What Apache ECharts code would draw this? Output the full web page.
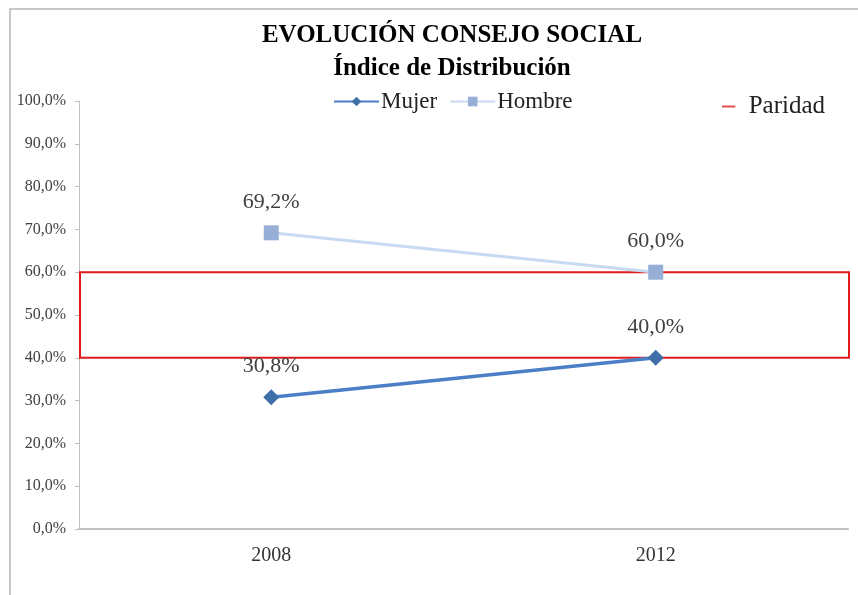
<!DOCTYPE html>
<html><head><meta charset="utf-8">
<script src="https://cdn.jsdelivr.net/npm/echarts@6/dist/echarts.min.js"></script>
<style>html,body{margin:0;padding:0;background:#fff}#c{width:858px;height:595px}</style>
</head><body><div id="c"></div>
<script>
const categories = ['2008', '2012'];
const mujer = [30.8, 40.0];
const hombre = [69.2, 60.0];
const paridadRange = [40, 60];
const yTicks = [0, 10, 20, 30, 40, 50, 60, 70, 80, 90, 100];

const fmt = v => v.toFixed(1).replace('.', ',') + '%';
const serif = '"Liberation Serif", "DejaVu Serif", serif';
const chart = echarts.init(document.getElementById('c'));
chart.setOption({
  animation: false,
  backgroundColor: '#fff',
  graphic: [{
    type: 'polyline', shape: { points: [[10, 600], [10, 9], [870, 9]] },
    style: { stroke: '#c8c8c8', lineWidth: 2, fill: null }, silent: true
  }],
  title: {
    text: 'EVOLUCIÓN CONSEJO SOCIAL\nÍndice de Distribución',
    left: 447, top: 14, textAlign: 'center',
    textStyle: { fontFamily: serif, fontWeight: 'bold', fontSize: 25, lineHeight: 33, color: '#000' }
  },
  legend: [{
    data: ['Mujer', 'Hombre'], left: 333, top: 90, padding: 0, itemGap: 12, itemWidth: 45, itemHeight: 12,
    textStyle: { fontFamily: serif, fontSize: 23, color: '#222', padding: [0, 0, 0, -3] }
  }, {
    data: [{ name: 'Paridad', icon: 'path://M0,0 L10,0 L10,1.5 L0,1.5 Z' }],
    left: 722, top: 94, padding: 0, itemWidth: 16, itemHeight: 2, itemGap: 6,
    textStyle: { fontFamily: serif, fontSize: 25, color: '#222', padding: [0, 0, 0, 7] }
  }],
  grid: { left: 79, right: 10, top: 101, bottom: 66, containLabel: false },
  xAxis: {
    type: 'category', data: categories, boundaryGap: true,
    axisLine: { lineStyle: { color: '#c0c0c0', width: 2 } },
    axisTick: { show: false },
    axisLabel: { fontFamily: serif, fontSize: 20, color: '#333', margin: 17 }
  },
  yAxis: {
    type: 'value', min: yTicks[0], max: yTicks[yTicks.length - 1], interval: 10,
    axisLine: { show: true, lineStyle: { color: '#c0c0c0', width: 1 } },
    axisTick: { show: true, length: 4, lineStyle: { color: '#c0c0c0' } },
    splitLine: { show: false },
    axisLabel: { fontFamily: serif, fontSize: 16, color: '#404040', margin: 13, formatter: v => fmt(v) }
  },
  series: [{
    name: 'Mujer', type: 'line', data: mujer,
    symbol: 'diamond', symbolSize: 16,
    lineStyle: { color: '#4a7fc6', width: 3.5 },
    itemStyle: { color: '#3f6fa9' },
    label: { show: true, position: 'top', distance: 12, fontFamily: serif, fontSize: 22, color: '#404040', formatter: p => fmt(p.value) },
    z: 3
  }, {
    name: 'Hombre', type: 'line', data: hombre,
    symbol: 'rect', symbolSize: 15,
    lineStyle: { color: '#c8daf2', width: 3 },
    itemStyle: { color: '#97aed6' },
    label: { show: true, position: 'top', distance: 12, fontFamily: serif, fontSize: 22, color: '#404040', formatter: p => fmt(p.value) },
    z: 3
  }, {
    name: 'Paridad', type: 'line', data: [],
    itemStyle: { color: '#e05050' }, lineStyle: { color: '#e05050' },
    markArea: {
      silent: true,
      itemStyle: { color: 'rgba(0,0,0,0)', borderColor: '#e01b1b', borderWidth: 2 },
      data: [[{ yAxis: paridadRange[0], x: 80 }, { yAxis: paridadRange[1], x: 849 }]]
    },
    z: 4
  }]
});
</script></body></html>
